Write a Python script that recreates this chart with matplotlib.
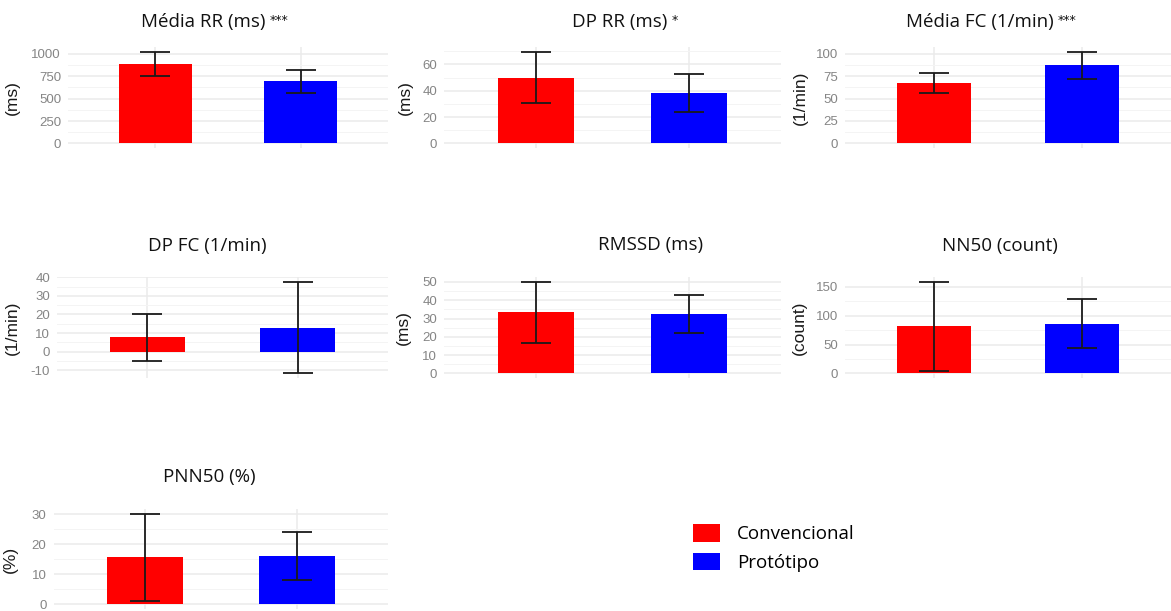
import matplotlib
matplotlib.use("Agg")
import matplotlib.pyplot as plt
from matplotlib.patches import Patch
from matplotlib.ticker import AutoMinorLocator
import numpy as np

titles = ["Média RR (ms)", "DP RR (ms)", "Média FC (1/min)", "DP FC (1/min)",
          "RMSSD (ms)", "NN50 (count)", "PNN50 (%)"]
stars = ["***", "*", "***", "", "", "", ""]
ylabels = ["(ms)", "(ms)", "(1/min)", "(1/min)", "(ms)", "(count)", "(%)"]

groups = ["Convencional", "Protótipo"]
conv_mean = [890, 50, 67.5, 7.7, 33.5, 82, 15.7]
conv_sd = [136, 19.7, 11.5, 12.6, 16.7, 77, 14.6]
prot_mean = [693, 38, 87, 13, 32.4, 86, 16.3]
prot_sd = [128, 14.5, 15.3, 24.7, 10.3, 42.5, 8.0]

yticks = [
    [0, 250, 500, 750, 1000],
    [0, 20, 40, 60],
    [0, 25, 50, 75, 100],
    [-10, 0, 10, 20, 30, 40],
    [0, 10, 20, 30, 40, 50],
    [0, 50, 100, 150],
    [0, 10, 20, 30],
]

colors = ["#FF0000", "#0000FF"]

W, H = 1171, 611
fig = plt.figure(figsize=(W / 100, H / 100), dpi=100)

# panel boxes in pixels: left, right, top, bottom
boxes = [(68, 388, 47, 148), (444, 781, 47, 148), (845, 1171, 47, 148),
         (57, 388, 277, 378), (444, 781, 277, 378), (845, 1171, 277, 378),
         (53.5, 388, 509, 609)]
title_pos = [(203, 22), (620, 22), (980, 22), (207, 246), (651, 245),
             (1000, 246), (209, 477)]
ylabel_x = [20, 413, 808, 20, 411, 807, 18]

title_font = "Open Sans"
tick_font = "Liberation Sans"

for i in range(len(titles)):
    l, r, t, b = boxes[i]
    ax = fig.add_axes([l / W, 1 - b / H, (r - l) / W, (b - t) / H])
    means = [conv_mean[i], prot_mean[i]]
    sds = [conv_sd[i], prot_sd[i]]
    x = np.array([1, 2])
    ax.bar(x, means, width=0.5, color=colors, zorder=2)
    ax.errorbar(x, means, yerr=sds, fmt="none", ecolor="#1a1a1a",
                elinewidth=1.3, capsize=10.8, capthick=1.3, zorder=3)

    lo = min(0, min(m - s for m, s in zip(means, sds)))
    hi = max(0, max(m + s for m, s in zip(means, sds)))
    pad = 0.05 * (hi - lo)
    ax.set_ylim(lo - pad, hi + pad)
    ax.set_xlim(0.4, 2.6)

    ax.set_xticks([1, 2])
    ax.set_xticklabels([])
    ax.set_yticks(yticks[i])
    ax.set_yticklabels([str(v) for v in yticks[i]], fontfamily=tick_font,
                       fontsize=9.5, color="#858585")
    ax.yaxis.set_minor_locator(AutoMinorLocator(2))
    ax.tick_params(which="both", length=0, pad=5)
    ax.grid(which="major", color="#EBEBEB", linewidth=1.1)
    ax.grid(which="minor", axis="y", color="#F4F4F4", linewidth=0.7)
    ax.set_axisbelow(True)
    for sp in ax.spines.values():
        sp.set_visible(False)

    ax.set_ylabel(ylabels[i], fontfamily=tick_font, fontsize=12.5, color="#1a1a1a")
    ax.yaxis.set_label_coords((ylabel_x[i] - l) / (r - l), 0.5)

    tx, ty = title_pos[i]
    txt = fig.text(tx / W, 1 - ty / H, titles[i], ha="center", va="center",
                   fontfamily=title_font, fontsize=13.5, color="#111111")
    if stars[i]:
        ax.annotate(stars[i], xy=(1, 1), xycoords=txt, xytext=(3, -1),
                    textcoords="offset points", ha="left", va="top",
                    fontsize=9, color="#111111")

handles = [Patch(facecolor=c, edgecolor="none") for c in colors]
fig.legend(handles, groups, loc="upper left",
           bbox_to_anchor=(693 / W, 1 - 524 / H), frameon=False,
           prop={"family": title_font, "size": 13.5},
           handlelength=1.45, handleheight=1.07, handletextpad=0.9,
           labelspacing=0.5, borderpad=0, borderaxespad=0)

fig.savefig("out.png", dpi=100, facecolor="white")
